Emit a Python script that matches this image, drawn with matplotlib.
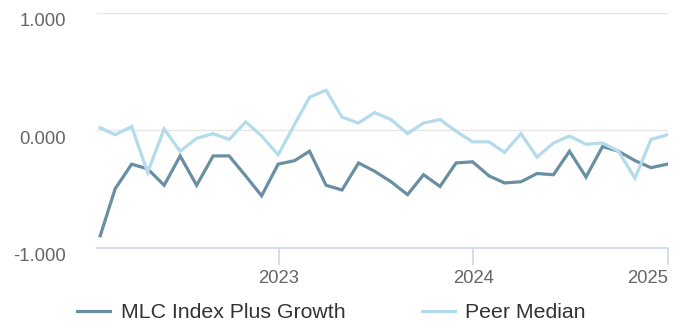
import matplotlib
matplotlib.use("Agg")
import matplotlib.pyplot as plt
import matplotlib.transforms as mtransforms
import pandas as pd

# Monthly observations, Jan 2022 - Dec 2024 (month-end)
dates = pd.date_range("2022-01-31", "2024-12-31", freq="ME")

mlc_index_plus_growth = [
    -0.90, -0.50, -0.29, -0.33, -0.47, -0.22, -0.47, -0.22, -0.22, -0.39,
    -0.56, -0.29, -0.26, -0.18, -0.47, -0.51, -0.28, -0.35, -0.44, -0.55,
    -0.38, -0.48, -0.28, -0.27, -0.39, -0.45, -0.44, -0.37, -0.38, -0.18,
    -0.40, -0.14, -0.18, -0.26, -0.32, -0.29,
]
peer_median = [
    0.02, -0.04, 0.03, -0.36, 0.01, -0.18, -0.07, -0.03, -0.08, 0.07,
    -0.05, -0.21, 0.05, 0.28, 0.34, 0.11, 0.06, 0.15, 0.09, -0.03,
    0.06, 0.09, -0.01, -0.10, -0.10, -0.19, -0.03, -0.23, -0.11, -0.05,
    -0.12, -0.11, -0.18, -0.41, -0.08, -0.04,
]
series_names = ["MLC Index Plus Growth", "Peer Median"]
series_colors = ["#6a8fa3", "#b4dbeb"]

y_ticks = [-1.0, 0.0, 1.0]
x_tick_years = [2023, 2024, 2025]

plt.rcParams["font.family"] = ["Liberation Sans", "DejaVu Sans"]

fig = plt.figure(figsize=(6.82, 3.24), dpi=100)
ax = fig.add_axes([0.1415, 0.2361, 0.838, 0.7247])

for values, name, color in zip([mlc_index_plus_growth, peer_median], series_names, series_colors):
    ax.plot(dates, values, color=color, lw=2.3, label=name, solid_joinstyle="miter", zorder=3)

ax.set_ylim(-1.0, 1.0)
ax.set_xlim(pd.Timestamp("2022-01-24"), pd.Timestamp("2025-01-01"))

# Horizontal grid
ax.set_yticks(y_ticks)
ax.set_yticklabels([f"{v:.3f}" for v in y_ticks])
ax.yaxis.grid(True, color="#e6e6e6", lw=1.0)
ax.tick_params(axis="y", length=0, pad=22, labelsize=13.3, labelcolor="#666666")
offset = mtransforms.ScaledTranslation(0, -7 / 100, fig.dpi_scale_trans)
for lbl in ax.get_yticklabels():
    lbl.set_transform(lbl.get_transform() + offset)

# Year ticks on the date axis
ax.set_xticks([pd.Timestamp(f"{y}-01-01") for y in x_tick_years])
ax.set_xticklabels([str(y) for y in x_tick_years])
ax.tick_params(axis="x", length=12, width=1.2, color="#ccd6eb", direction="out",
               pad=4, labelsize=13.3, labelcolor="#666666")
# keep the last year label inside the plot edge
ax.get_xticklabels()[-1].set_horizontalalignment("right")

for side in ["top", "right", "left"]:
    ax.spines[side].set_visible(False)
ax.spines["bottom"].set_color("#ccd6eb")
ax.spines["bottom"].set_linewidth(1.2)
ax.set_axisbelow(True)

leg = fig.legend(loc="center left", bbox_to_anchor=(77 / 682, (324 - 312.5) / 324),
                 ncol=2, frameon=False, fontsize=15.3, handlelength=1.57,
                 handletextpad=0.48, columnspacing=3.6, borderpad=0, borderaxespad=0)
for t in leg.get_texts():
    t.set_color("#333333")
for h in leg.get_lines():
    h.set_linewidth(2.3)

fig.savefig("out.png", dpi=100)
